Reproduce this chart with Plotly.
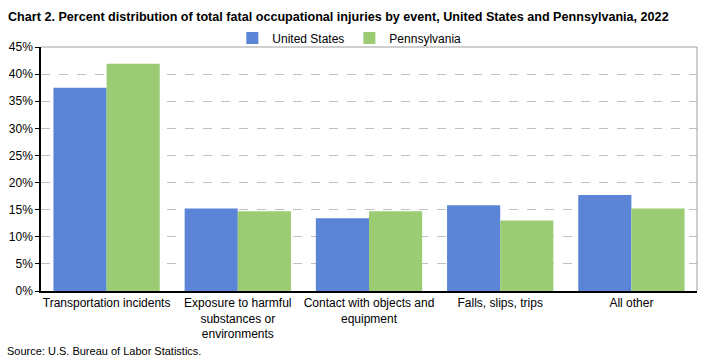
import plotly.graph_objects as go

categories = ["Transportation incidents", "Exposure to harmful<br>substances or<br>environments",
              "Contact with objects and<br>equipment", "Falls, slips, trips", "All other"]
us_values = [37.5, 15.2, 13.4, 15.8, 17.7]
pa_values = [41.9, 14.7, 14.7, 13.0, 15.2]
tick_vals = [0, 5, 10, 15, 20, 25, 30, 35, 40, 45]
tick_text = [f"{v}%" for v in tick_vals]

font_fam = "Liberation Sans, Arial, sans-serif"

fig = go.Figure()
fig.add_trace(go.Bar(name="United States", x=categories, y=us_values, marker_color="#5B84D6",
                     marker_line_width=0))
fig.add_trace(go.Bar(name="Pennsylvania", x=categories, y=pa_values, marker_color="#9BCB72",
                     marker_line_width=0))

fig.update_layout(
    width=703, height=360,
    margin=dict(l=41, r=6, t=47, b=69),
    paper_bgcolor="white", plot_bgcolor="white",
    barmode="group", bargap=0.19, bargroupgap=0,
    font=dict(family=font_fam, size=12, color="#000"),
    title=dict(text="<b>Chart 2. Percent distribution of total fatal occupational injuries by event, United States and Pennsylvania, 2022</b>",
               x=8/703, xanchor="left", y=1-17/360, yanchor="middle",
               font=dict(family=font_fam, size=12.6, color="#000")),
    legend=dict(orientation="h", x=0.47, xanchor="center", y=1+9/244, yanchor="middle",
                font=dict(size=12), itemwidth=30, tracegroupgap=0,
                bgcolor="rgba(0,0,0,0)"),
    showlegend=True,
)
fig.update_yaxes(range=[0, 45], tickvals=tick_vals, ticktext=tick_text, automargin=False,
                 showgrid=True, gridcolor="#C0C0C0", griddash="dash", gridwidth=1,
                 showline=True, linecolor="black", linewidth=1.5,
                 ticks="outside", ticklen=4, tickcolor="black",
                 mirror=False, zeroline=False, tickfont=dict(size=12))
fig.update_xaxes(showline=True, linecolor="black", linewidth=1.5, ticks="", automargin=False,
                 tickfont=dict(size=12))

# plot area border top/right (gray)
fig.add_shape(type="line", xref="paper", yref="paper", x0=0, x1=1, y0=1, y1=1,
              line=dict(color="#A0A0A0", width=1))
fig.add_shape(type="line", xref="paper", yref="paper", x0=1, x1=1, y0=0, y1=1,
              line=dict(color="#A0A0A0", width=1))

fig.add_annotation(text="Source: U.S. Bureau of Labor Statistics.", xref="paper", yref="paper",
                   x=(5-41)/656, y=(291-351)/244, xanchor="left", yanchor="middle", showarrow=False,
                   font=dict(size=11))

fig.write_html("out.html", config={"displayModeBar": False},
               post_script="document.body.style.margin='0';document.body.style.padding='0';")
